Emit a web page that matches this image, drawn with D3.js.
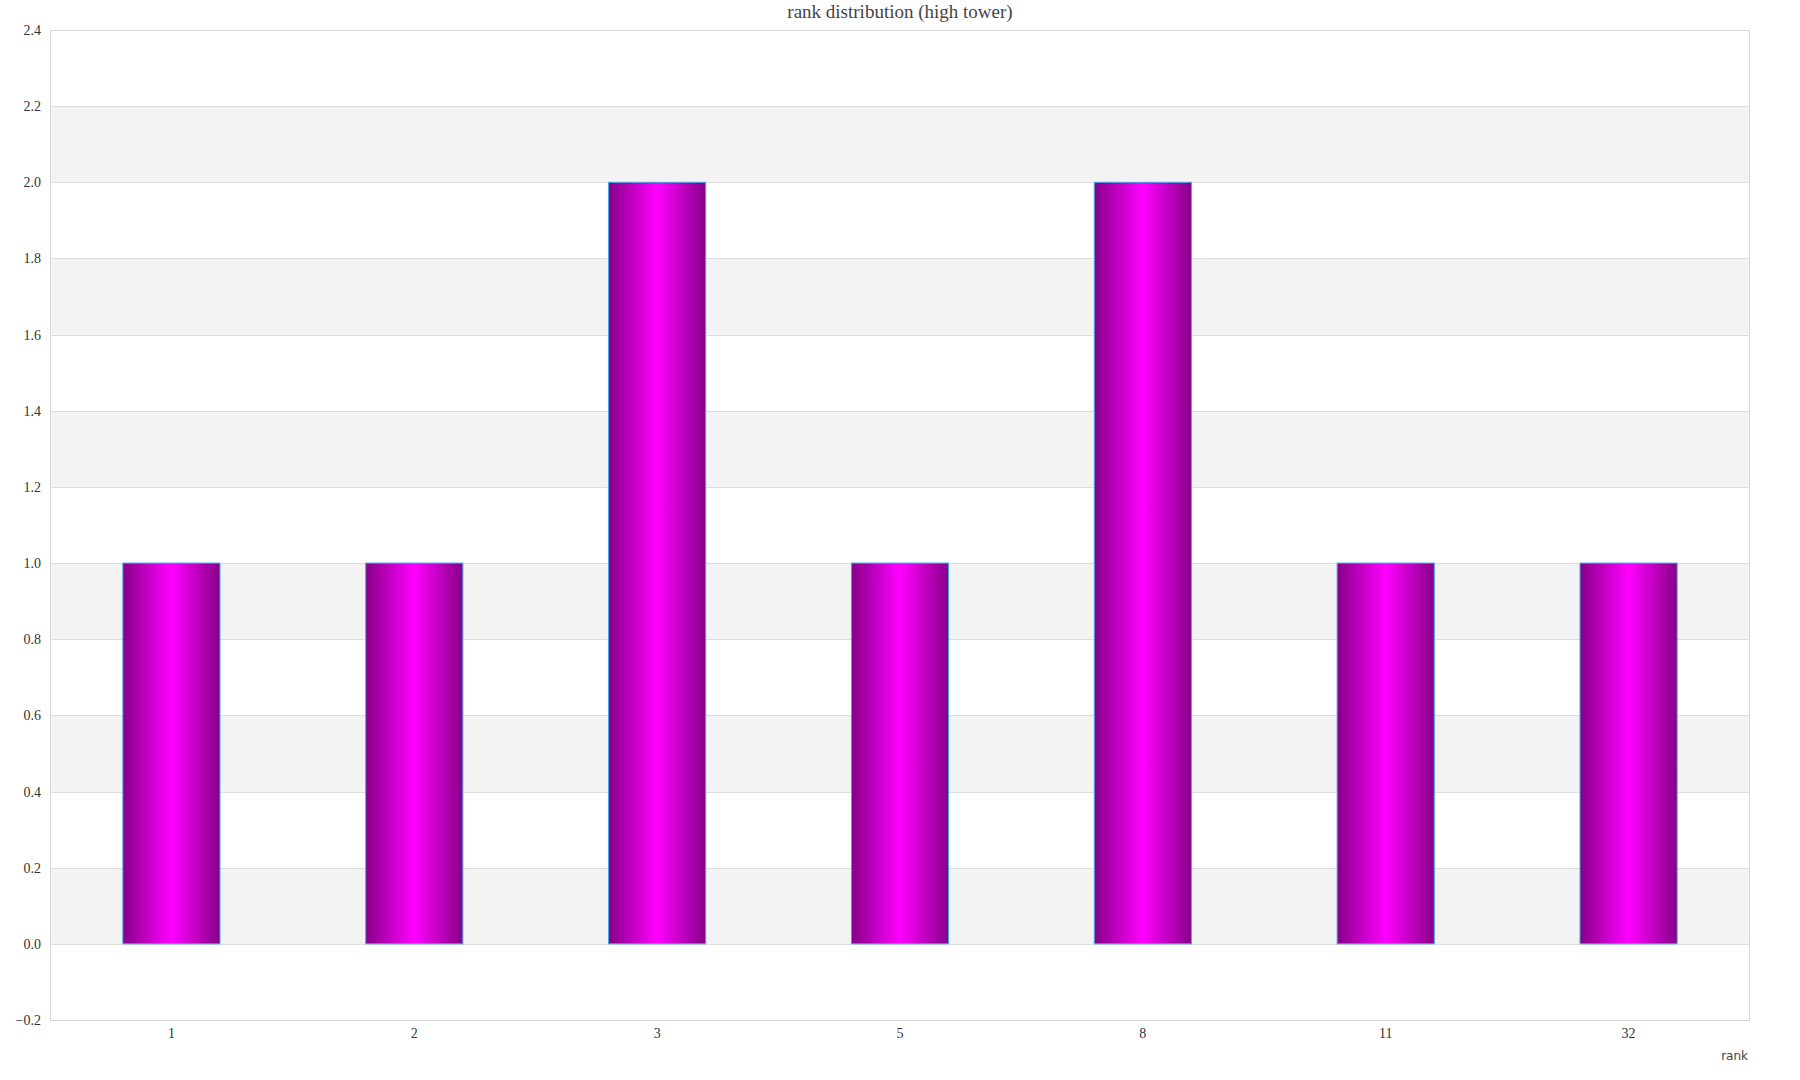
<!DOCTYPE html>
<html><head><meta charset="utf-8">
<script src="https://cdn.jsdelivr.net/npm/d3@7"></script>
<style>body{margin:0;background:#fff;} text{font-family:"Liberation Serif","DejaVu Serif",serif;}</style>
</head><body>
<svg id="c" width="1800" height="1080"></svg>
<script>
const categories = ["1","2","3","5","8","11","32"];
const values = [1,1,2,1,2,1,1];
const yTicks = [-0.2,0,0.2,0.4,0.6,0.8,1.0,1.2,1.4,1.6,1.8,2.0,2.2,2.4];
const title = "rank distribution (high tower)";
const xLabel = "rank";

const svg = d3.select("#c");
const m = {l:50, r:50, t:30, b:60};
const W = 1800, H = 1080;
const x = d3.scaleBand().domain(categories).range([m.l, W-m.r]).paddingInner(0).paddingOuter(0);
const y = d3.scaleLinear().domain([-0.2,2.4]).range([H-m.b, m.t]);

const defs = svg.append("defs");
const g = defs.append("linearGradient").attr("id","bg").attr("x1","0%").attr("x2","100%").attr("y1","0%").attr("y2","0%");
g.append("stop").attr("offset","0%").attr("stop-color","#870087");
g.append("stop").attr("offset","50%").attr("stop-color","#ff00ff");
g.append("stop").attr("offset","100%").attr("stop-color","#870087");

const bands = yTicks.slice(0,-1).map((v,i)=>[v,yTicks[i+1]]);
svg.append("g").selectAll("rect").data(bands).join("rect")
  .attr("x", m.l).attr("width", W-m.l-m.r)
  .attr("y", d=>y(d[1])).attr("height", d=>y(d[0])-y(d[1]))
  .attr("fill", d=> (Math.round(d[0]*10)%4===0 && d[0]>=0) ? "#f3f3f3" : "#ffffff");

svg.append("g").selectAll("line").data(yTicks).join("line")
  .attr("x1", m.l).attr("x2", W-m.r)
  .attr("y1", d=>Math.round(y(d))+0.5).attr("y2", d=>Math.round(y(d))+0.5)
  .attr("stroke","#dddddd").attr("stroke-width",1);

svg.append("rect").attr("x",m.l+0.5).attr("y",m.t+0.5).attr("width",W-m.l-m.r-1).attr("height",H-m.t-m.b)
  .attr("fill","none").attr("stroke","#d8d8d8");

const bw = x.bandwidth()*0.4;
svg.append("g").selectAll("rect").data(categories).join("rect")
  .attr("x", (d)=> x(d)+x.bandwidth()/2 - bw/2)
  .attr("width", bw)
  .attr("y", (d,i)=> y(values[i]))
  .attr("height", (d,i)=> y(0)-y(values[i]))
  .attr("fill","url(#bg)").attr("stroke","#3fa9e8").attr("stroke-width",1);

const ya = d3.axisLeft(y).tickValues(yTicks).tickFormat(d3.format(".1f")).tickSize(0).tickPadding(9);
svg.append("g").attr("transform",`translate(${m.l},0)`).call(ya)
  .call(s=>s.select(".domain").remove())
  .selectAll("text").attr("font-size",14).attr("fill","#333").style("font-family","Liberation Serif");

const xa = d3.axisBottom(x).tickSize(0).tickPadding(8);
svg.append("g").attr("transform",`translate(0,${H-m.b})`).call(xa)
  .call(s=>s.select(".domain").remove())
  .selectAll("text").attr("font-size",14).attr("fill","#333").style("font-family","Liberation Serif");

svg.append("text").attr("x", W-m.r-2).attr("y", 1060).attr("text-anchor","end")
  .attr("font-size",12).attr("fill","#444").style("font-family","DejaVu Sans").text(xLabel);

svg.append("text").attr("x", (m.l+W-m.r)/2).attr("y", 18).attr("text-anchor","middle")
  .attr("font-size",19).attr("fill","#444").text(title);
</script>
</body></html>
